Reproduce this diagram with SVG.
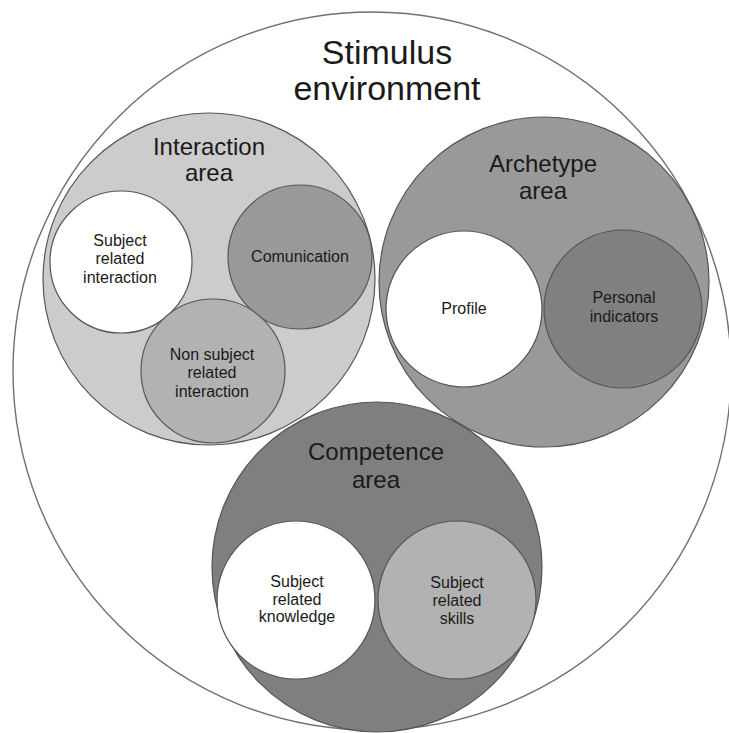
<svg xmlns="http://www.w3.org/2000/svg" width="729" height="733" viewBox="0 0 729 733">
<style>
  .c { stroke: #555555; stroke-width: 1.2; }
  .t { font-family: "Liberation Sans", Arial, sans-serif; fill: #1a1a1a; text-anchor: middle; }
  .xl { font-size: 34px; }
  .lg { font-size: 24px; }
  .sm { font-size: 16px; }
</style>
<rect width="729" height="733" fill="#ffffff"/>
<g id="stimulus-environment">
  <circle cx="372" cy="371" r="359" fill="#ffffff" stroke="#707070" stroke-width="1.4"/>
  <text class="t xl" x="387" y="64">Stimulus</text>
  <text class="t xl" x="387" y="100">environment</text>
</g>
<g id="interaction-area">
  <circle class="c" cx="209" cy="279" r="166" fill="#cccccc"/>
  <text class="t lg" x="209" y="155">Interaction</text>
  <text class="t lg" x="209" y="181">area</text>
</g>
<g id="subject-related-interaction">
  <circle class="c" cx="121" cy="262" r="71" fill="#ffffff"/>
  <text class="t sm" x="120" y="246">Subject</text>
  <text class="t sm" x="120" y="264">related</text>
  <text class="t sm" x="120" y="283">interaction</text>
</g>
<g id="comunication">
  <circle class="c" cx="300" cy="257" r="72" fill="#999999"/>
  <text class="t sm" x="300" y="262">Comunication</text>
</g>
<g id="non-subject-related-interaction">
  <circle class="c" cx="213" cy="371" r="72" fill="#b2b2b2"/>
  <text class="t sm" x="212" y="360">Non subject</text>
  <text class="t sm" x="212" y="378">related</text>
  <text class="t sm" x="212" y="397">interaction</text>
</g>
<g id="archetype-area">
  <circle class="c" cx="544" cy="282" r="165" fill="#999999"/>
  <text class="t lg" x="543" y="172">Archetype</text>
  <text class="t lg" x="543" y="199">area</text>
</g>
<g id="profile">
  <circle class="c" cx="464" cy="309" r="78" fill="#ffffff"/>
  <text class="t sm" x="464" y="314">Profile</text>
</g>
<g id="personal-indicators">
  <circle class="c" cx="623" cy="309" r="79" fill="#808080"/>
  <text class="t sm" x="624" y="303">Personal</text>
  <text class="t sm" x="624" y="322">indicators</text>
</g>
<g id="competence-area">
  <circle class="c" cx="377" cy="567" r="165" fill="#7f7f7f"/>
  <text class="t lg" x="376" y="460">Competence</text>
  <text class="t lg" x="376" y="488">area</text>
</g>
<g id="subject-related-knowledge">
  <circle class="c" cx="296" cy="600" r="79" fill="#ffffff"/>
  <text class="t sm" x="297" y="587">Subject</text>
  <text class="t sm" x="297" y="605">related</text>
  <text class="t sm" x="297" y="622">knowledge</text>
</g>
<g id="subject-related-skills">
  <circle class="c" cx="457" cy="600" r="79" fill="#b2b2b2"/>
  <text class="t sm" x="457" y="588">Subject</text>
  <text class="t sm" x="457" y="606">related</text>
  <text class="t sm" x="457" y="624">skills</text>
</g>
<g id="connectors"/>
</svg>
